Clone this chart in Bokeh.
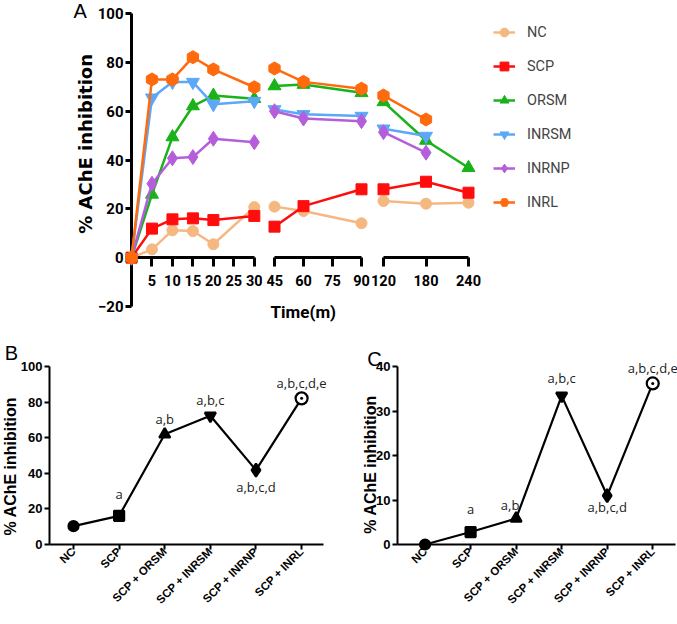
import math
from bokeh.plotting import figure
from bokeh.layouts import row, column
from bokeh.models import Range1d, FixedTicker, Legend, LegendItem, ColumnDataSource
from bokeh.core.properties import value
from bokeh.embed import file_html
from bokeh.resources import INLINE

nan = float("nan")

# ---------------- Panel A data ----------------
series_names = ["NC", "SCP", "ORSM", "INRSM", "INRNP", "INRL"]
time_min = [0, 5, 10, 15, 20, 30, 45, 60, 90, 120, 180, 240]
nc_inh = [0, 3.4, 11.2, 10.9, 5.5, 20.7, 20.9, 19.1, 14.1, 23.2, 22.1, 22.5]
scp_inh = [0, 11.9, 15.7, 16.1, 15.4, 17.1, 12.7, 21.1, 28.0, 28.0, 31.1, 26.6]
orsm_inh = [0, 25.9, 49.4, 62.1, 66.4, 65.1, 70.3, 70.9, 67.5, 63.8, 48.0, 36.8]
inrsm_inh = [0, 65.5, 71.9, 71.9, 62.8, 64.1, 60.7, 58.7, 58.0, 52.8, 49.8, nan]
inrnp_inh = [0, 30.3, 40.7, 41.2, 48.7, 47.3, 60.0, 57.0, 55.9, 51.4, 43.0, nan]
inrl_inh = [0, 73.0, 73.0, 82.1, 77.1, 69.8, 77.5, 72.0, 69.2, 66.4, 56.6, nan]
segment_limits = [(0, 30), (45, 90), (120, 240)]
segment_ticks = [[5, 10, 15, 20, 25, 30], [45, 60, 75, 90], [120, 180, 240]]
y_ticks_a = [-20, 0, 20, 40, 60, 80, 100]

# ---------------- Panels B / C data ----------------
groups = ["NC", "SCP", "SCP + ORSM", "SCP + INRSM", "SCP + INRNP", "SCP + INRL"]
inh_b = [10.3, 16.1, 61.9, 72.3, 41.8, 82.1]
inh_c = [0.0, 2.8, 5.85, 33.4, 11.0, 36.2]
sig_labels = ["", "a", "a,b", "a,b,c", "a,b,c,d", "a,b,c,d,e"]
y_ticks_b = [0, 20, 40, 60, 80, 100]
y_ticks_c = [0, 10, 20, 30, 40]

# ---------------- styles ----------------
all_vals = [nc_inh, scp_inh, orsm_inh, inrsm_inh, inrnp_inh, inrl_inh]
colors = ["#F5B880", "#FF0D0D", "#19B219", "#5CA8F7", "#B55EDC", "#FF6A0D"]
markers = ["circle", "square", "triangle", "inverted_triangle", "diamond", "hex"]
msizes = [11, 11, 13, 13, 15, 13]
mangles = [0, 0, 0, 0, 0, math.pi / 6]
NARROW = "Roboto"

A_H = 343


def clean(p):
    p.grid.visible = False
    p.outline_line_color = None
    p.background_fill_color = "white"
    p.border_fill_color = "white"


def add_text(p, x, y, txt, dx=0, dy=0, angle=0, font="Liberation Sans", size="20px",
             style="normal", align="center", baseline="middle", color="black"):
    src = ColumnDataSource(dict(x=[x], y=[y], t=[txt]))
    p.text("x", "y", text="t", source=src, x_offset=dx, y_offset=dy, angle=angle,
           text_font=value(font), text_font_size=size, text_font_style=style,
           text_align=align, text_baseline=baseline, text_color=color, level="overlay")


def a_xaxis(p, ticks, bounds):
    ax = p.xaxis[0]
    ax.fixed_location = 0
    ax.ticker = FixedTicker(ticks=ticks)
    ax.bounds = bounds
    ax.axis_line_width = 3
    ax.major_tick_line_width = 3
    ax.major_tick_out = 9
    ax.major_tick_in = 0
    ax.minor_tick_line_color = None
    ax.major_label_standoff = 8
    ax.major_label_text_font = NARROW
    ax.major_label_text_font_style = "bold"
    ax.major_label_text_font_size = "14.5px"
    ax.major_label_text_color = "black"


def make_seg(i, width, bl, br, x_start, x_end):
    lo, hi = segment_limits[i]
    p = figure(width=width, height=A_H, x_range=Range1d(x_start, x_end), y_range=Range1d(-20, 100),
               output_backend="svg", toolbar_location=None,
               min_border_left=bl, min_border_right=br, min_border_top=13, min_border_bottom=37,
               y_axis_location="left" if i == 0 else None)
    clean(p)
    a_xaxis(p, segment_ticks[i], (lo, hi))
    rends = []
    for k, name in enumerate(series_names):
        xs = [t for t in time_min if lo <= t <= hi]
        ys = [v for t, v in zip(time_min, all_vals[k]) if lo <= t <= hi]
        src = ColumnDataSource(dict(x=xs, y=ys))
        lr = p.line("x", "y", source=src, line_color=colors[k], line_width=2.5, level="overlay")
        sr = p.scatter("x", "y", source=src, marker=markers[k], size=msizes[k], angle=mangles[k],
                       fill_color=colors[k], line_color=colors[k], level="overlay")
        rends.append((name, lr, sr))
    return p, rends


pA1, _ = make_seg(0, 266, 131, 4, 0, 32)
pA2, _ = make_seg(1, 104, 0, 0, 40.86, 94.65)
pA3, rendsA3 = make_seg(2, 230, 0, 0, 101.65, 426.3)

ya = pA1.yaxis[0]
ya.ticker = FixedTicker(ticks=y_ticks_a)
ya.axis_line_width = 3
ya.major_tick_line_width = 3
ya.major_tick_out = 6
ya.major_tick_in = 0
ya.minor_tick_line_color = None
ya.major_label_standoff = 2
ya.major_label_text_font = NARROW
ya.major_label_text_font_style = "bold"
ya.major_label_text_font_size = "15px"
ya.major_label_text_color = "black"

add_text(pA1, 0, 100, "A", dx=-58, dy=-3, align="left", size="20px")
add_text(pA1, 0, 46.6, "% AChE inhibition", dx=-46, angle=math.pi / 2, font="DejaVu Sans",
         style="bold", size="18px")
add_text(pA2, 45, -20, "Time(m)", dx=-4, dy=5, font=NARROW, style="bold", size="17px", align="left")

legend = Legend(items=[LegendItem(label=n, renderers=[lr, sr]) for n, lr, sr in rendsA3],
                location=(123, 93), padding=0, margin=0, spacing=12, glyph_width=22,
                glyph_height=22, label_height=22, label_standoff=12,
                label_text_font=NARROW, label_text_font_size="14.5px",
                background_fill_alpha=0, border_line_color=None)
pA3.add_layout(legend)


# ---------------- Panels B / C ----------------
pt_markers = ["circle", "square", "triangle", "inverted_triangle", "diamond", "circle_dot"]
pt_sizes = [10, 10, 11, 11, 13, 12]
pt_fill = ["black", "black", "black", "black", "black", "white"]


def make_bc(vals, yr, yticks, width, bl, br, bt, bb, x0, x1, sig_dx, sig_dy, letter, let_dx, let_dy,
            lab_y, lab_dx):
    p = figure(width=width, height=281, x_range=Range1d(x0, x1), y_range=Range1d(0, yr),
               output_backend="svg", toolbar_location=None,
               min_border_left=bl, min_border_right=br, min_border_top=bt, min_border_bottom=bb)
    clean(p)
    idx = list(range(len(groups)))
    src = ColumnDataSource(dict(x=idx, y=vals, m=pt_markers, s=pt_sizes, f=pt_fill,
                                sig=sig_labels, dx=sig_dx, dy=sig_dy))
    p.line("x", "y", source=src, line_color="black", line_width=2.2, level="overlay")
    p.scatter("x", "y", source=src, marker="m", size="s", fill_color="f", line_color="black",
              line_width=2.2, level="overlay")
    p.text("x", "y", text="sig", x_offset="dx", y_offset="dy", source=src,
           text_font=value("Open Sans"), text_font_size="13px", text_align="center",
           text_baseline="middle", text_color="#222222", level="overlay")
    xa = p.xaxis[0]
    xa.ticker = FixedTicker(ticks=idx)
    xa.major_label_overrides = {i: g for i, g in zip(idx, groups)}
    xa.major_label_orientation = math.pi / 4
    ya = p.yaxis[0]
    ya.ticker = FixedTicker(ticks=yticks)
    for ax in (xa, ya):
        ax.axis_line_width = 2
        ax.major_tick_line_width = 2
        ax.major_tick_out = 5
        ax.major_tick_in = 0
        ax.minor_tick_line_color = None
        ax.major_label_standoff = 2
        ax.major_label_text_font = "Liberation Sans"
        ax.major_label_text_font_style = "bold"
        ax.major_label_text_font_size = "13px"
        ax.major_label_text_color = "black"
    xa.major_label_text_font_size = "11.5px"
    xa.major_label_standoff = 0
    add_text(p, x0, yr, letter, dx=let_dx, dy=let_dy, size="20px")
    add_text(p, x0, lab_y, "% AChE inhibition", dx=lab_dx, angle=math.pi / 2,
             style="bold", size="16px")
    return p


pB = make_bc(inh_b, 100, y_ticks_b, 355, 49, 32, 23, 76, -0.526, 5.48,
             [0, 0, 0, 0, 0, 0], [0, -22, -15, -16, 17, -15], "B", -38, -14, 44, -39)
pC = make_bc(inh_c, 40, y_ticks_c, 322, 42, 2, 19, 80, -0.605, 5.5,
             [0, 0, -6, 0, 0, 0], [0, -23, -13, -18, 11, -15], "C", -23, -8, 18, -27)

layout = column(row(pA1, pA2, pA3), row(pB, pC))

with open("out.html", "w") as f:
    f.write(file_html(layout, INLINE))
